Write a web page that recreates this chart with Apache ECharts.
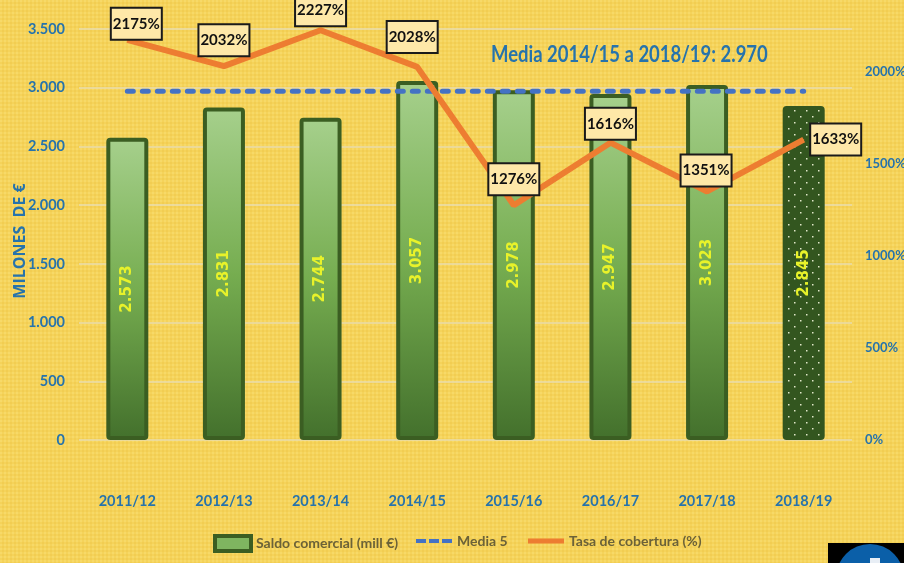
<!DOCTYPE html>
<html><head><meta charset="utf-8">
<style>html,body{margin:0;padding:0;background:#f5d35a}#c{width:904px;height:563px}</style>
<script src="https://cdn.jsdelivr.net/npm/echarts@6/dist/echarts.min.js"></script>
</head><body><div id="c"></div>
<script>
const categories=['2011/12','2012/13','2013/14','2014/15','2015/16','2016/17','2017/18','2018/19'];
const saldo=[2573,2831,2744,3057,2978,2947,3023,2845];
const media=[2970,2970,2970,2970,2970,2970,2970,2970];
const tasa=[2175,2032,2227,2028,1276,1616,1351,1633];
const leftTicks=[0,500,1000,1500,2000,2500,3000,3500];
const rightTicks=[0,500,1000,1500,2000];
const labelOffsets=[[9,-16],[0,-26],[0,-20],[-5,-30],[0,-26],[0,-19],[-1,-21],[32,0]];

function mk(w,h,fn){const c=document.createElement('canvas');c.width=w;c.height=h;fn(c.getContext('2d'));return c;}
const bgTex=mk(4,4,g=>{g.fillStyle='#f5d35a';g.fillRect(0,0,4,4);g.fillStyle='#f7d968';g.fillRect(0,0,2,2);g.fillStyle='#f2cd52';g.fillRect(2,2,2,2);});
const dots=mk(12,12,g=>{g.fillStyle='#33561f';g.fillRect(0,0,12,12);g.fillStyle='#dfe6c8';g.fillRect(2,2,1.5,1.5);g.fillRect(8,8,1.5,1.5);});
const BLUE='#2673ac',NF='Lato,"Noto Sans",sans-serif';
const fmt=v=>String(v).replace(/\B(?=(\d{3})+$)/g,'.');
const green={type:'linear',x:0,y:0,x2:0,y2:1,colorStops:[{offset:0,color:'#a6d08c'},{offset:.5,color:'#76ad50'},{offset:1,color:'#43702c'}]};
const legendText={fontFamily:NF,fontSize:14,fontWeight:'bold',color:'#6b6238'};
const legendBase={top:534,padding:0,itemGap:0,itemWidth:36,itemHeight:15,textStyle:legendText};

const chart=echarts.init(document.getElementById('c'),null,{renderer:'canvas'});
chart.setOption({
 animation:false,
 backgroundColor:{image:bgTex,repeat:'repeat'},
 legend:[
  {...legendBase,left:213,data:[{name:'Saldo comercial (mill €)',icon:'rect',itemStyle:{color:'#7fb560',borderColor:'#3b5e22',borderWidth:4}}]},
  {...legendBase,left:416,data:[{name:'Media 5',icon:'path://M0,0h10v4h-10z M13,0h10v4h-10z M26,0h10v4h-10z',itemStyle:{color:'#4472c4'}}]},
  {...legendBase,left:528,data:[{name:'Tasa de cobertura (%)',icon:'path://M0,0h36v5h-36z',itemStyle:{color:'#ed7d31'}}]}
 ],
 grid:{left:79,right:52,top:29,bottom:123,outerBoundsMode:'none'},
 xAxis:{type:'category',data:categories,axisLine:{show:false},axisTick:{show:false},
  axisLabel:{margin:54,fontFamily:NF,fontSize:14.5,fontWeight:'bold',color:BLUE}},
 yAxis:[
  {type:'value',min:0,max:3500,interval:500,name:'MILONES  DE €',nameLocation:'middle',nameGap:51,nameMoveOverlap:false,nameRotate:90,
   nameTextStyle:{fontFamily:'"Open Sans",sans-serif',fontSize:16,fontWeight:'bold',color:BLUE,padding:[0,13,0,0]},
   axisLine:{show:false},axisTick:{show:false},splitLine:{lineStyle:{color:'#e9dcae',width:1.5}},
   axisLabel:{margin:14,fontFamily:NF,fontSize:14.5,fontWeight:'bold',color:BLUE,formatter:v=>leftTicks.includes(v)?fmt(v):''}},
  {type:'value',min:0,max:2234,interval:500,axisLine:{show:false},axisTick:{show:false},splitLine:{show:false},
   axisLabel:{margin:13,fontFamily:NF,fontSize:13,fontWeight:'bold',color:BLUE,formatter:v=>rightTicks.includes(v)?v+'%':''}}
 ],
 series:[
  {name:'Saldo comercial (mill €)',type:'bar',barWidth:42,
   itemStyle:{color:green,borderColor:'#3b5e22',borderWidth:4,borderRadius:2},
   data:saldo.map((v,i)=>i===saldo.length-1?{value:v,itemStyle:{color:{image:dots,repeat:'repeat'},borderColor:'#33561f'}}:v),
   label:{show:true,position:'inside',rotate:90,formatter:p=>fmt(p.value),fontFamily:'"DejaVu Sans",sans-serif',fontSize:15,fontWeight:'bold',color:'#e8f22a'}},
  {name:'Media 5',type:'line',data:media,symbol:'none',z:3,
   lineStyle:{color:'#4472c4',width:5,type:[6,9],cap:'round'},itemStyle:{color:'#4472c4'}},
  {name:'Tasa de cobertura (%)',type:'line',yAxisIndex:1,symbol:'circle',symbolSize:1,showSymbol:true,z:4,
   lineStyle:{color:'#ed7d31',width:6},itemStyle:{color:'#ed7d31'},
   data:tasa.map((v,i)=>({value:v,label:{offset:labelOffsets[i]}})),
   label:{show:true,position:'inside',formatter:p=>p.value+'%',fontFamily:NF,fontSize:15,fontWeight:'bold',color:'#111',
    backgroundColor:'#fee8a8',borderColor:'#1a1a1a',borderWidth:2,width:49,height:30,lineHeight:30,align:'center',verticalAlign:'middle'}}
 ],
 graphic:[
  {type:'text',x:491,y:44,scaleX:.84,style:{text:'Media 2014/15 a 2018/19: 2.970',fontFamily:NF,fontSize:22,fontWeight:'bold',fill:BLUE},silent:true},
  {type:'rect',shape:{x:828,y:543,width:76,height:20},style:{fill:'#000'},silent:true},
  {type:'circle',shape:{cx:870,cy:578,r:34},style:{fill:'#0b5fa8'},silent:true},
  {type:'rect',shape:{x:870,y:558,width:10,height:5},style:{fill:'#e8eef5'},silent:true}
 ]
});
</script></body></html>
